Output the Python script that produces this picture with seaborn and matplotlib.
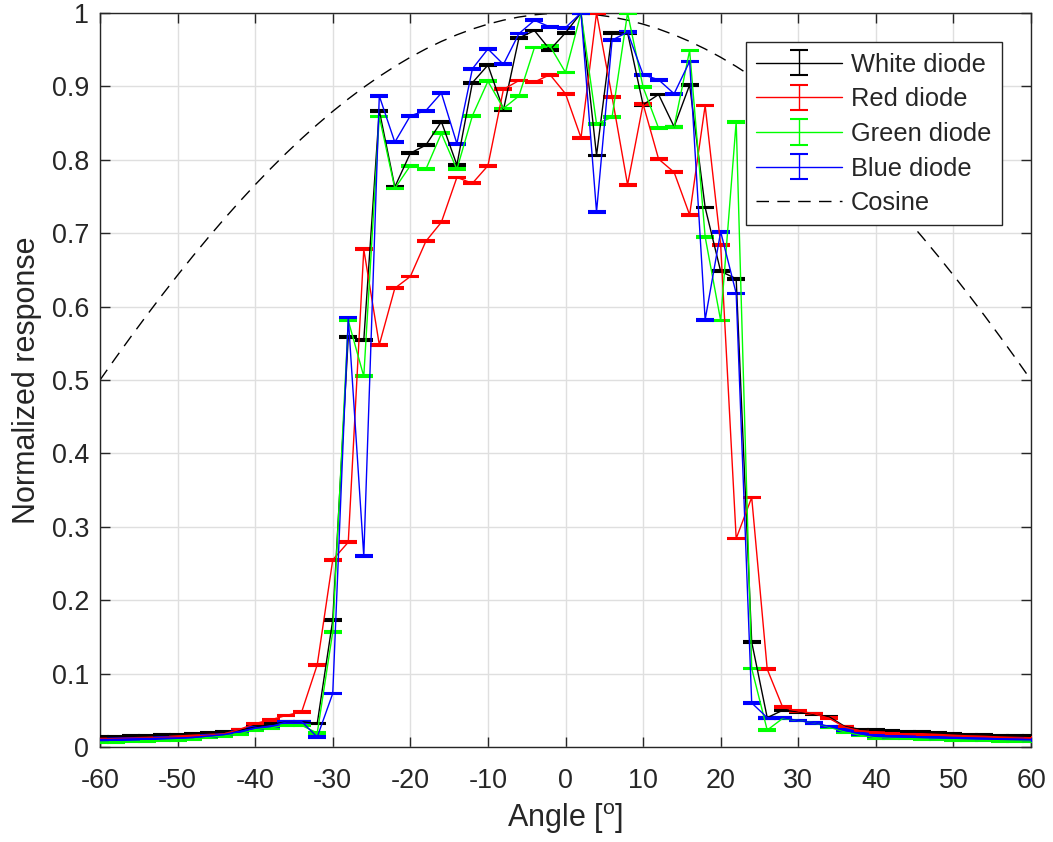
import numpy as np
import pandas as pd
import matplotlib
matplotlib.use("Agg")
import matplotlib.pyplot as plt
import seaborn as sns

# ---- data ----
angles = list(range(-60, 61, 2))

white = [0.0136, 0.014, 0.0145, 0.015, 0.016, 0.017, 0.018, 0.019, 0.020, 0.023,
         0.027, 0.031, 0.034, 0.0345, 0.032, 0.173, 0.559, 0.554, 0.867, 0.763,
         0.809, 0.820, 0.852, 0.793, 0.905, 0.929, 0.868, 0.966, 0.976, 0.950,
         0.973, 1.000, 0.806, 0.973, 0.973, 0.875, 0.889, 0.845, 0.902, 0.735,
         0.648, 0.638, 0.143, 0.040, 0.050, 0.048, 0.0445, 0.041, 0.028, 0.024,
         0.0227, 0.022, 0.021, 0.020, 0.019, 0.018, 0.017, 0.0165, 0.0155, 0.015, 0.0145]

red = [0.011, 0.0115, 0.012, 0.0125, 0.013, 0.014, 0.015, 0.016, 0.018, 0.024,
       0.032, 0.037, 0.043, 0.048, 0.112, 0.255, 0.279, 0.678, 0.548, 0.625,
       0.641, 0.689, 0.715, 0.776, 0.768, 0.792, 0.896, 0.908, 0.906, 0.916,
       0.890, 0.830, 1.000, 0.886, 0.766, 0.876, 0.801, 0.783, 0.725, 0.874,
       0.684, 0.284, 0.340, 0.106, 0.054, 0.049, 0.0455, 0.039, 0.027, 0.022,
       0.019, 0.018, 0.017, 0.0165, 0.016, 0.015, 0.0145, 0.014, 0.013, 0.0125, 0.012]

green = [0.0068, 0.007, 0.0075, 0.008, 0.009, 0.010, 0.011, 0.013, 0.015, 0.018,
         0.0236, 0.026, 0.030, 0.0295, 0.019, 0.157, 0.581, 0.505, 0.859, 0.761,
         0.792, 0.787, 0.836, 0.787, 0.860, 0.907, 0.870, 0.887, 0.953, 0.955,
         0.919, 1.000, 0.849, 0.858, 1.000, 0.899, 0.843, 0.845, 0.949, 0.695,
         0.581, 0.852, 0.107, 0.023, 0.039, 0.036, 0.033, 0.027, 0.0205, 0.016,
         0.0127, 0.012, 0.0115, 0.011, 0.0105, 0.010, 0.0095, 0.009, 0.0085, 0.008, 0.008]

blue = [0.010, 0.0105, 0.011, 0.0115, 0.012, 0.012, 0.013, 0.015, 0.017, 0.021,
        0.026, 0.028, 0.034, 0.0345, 0.0136, 0.073, 0.585, 0.260, 0.887, 0.824,
        0.860, 0.867, 0.891, 0.822, 0.924, 0.951, 0.930, 0.972, 0.990, 0.981,
        0.980, 1.000, 0.729, 0.963, 0.974, 0.916, 0.909, 0.890, 0.934, 0.582,
        0.702, 0.618, 0.060, 0.040, 0.040, 0.036, 0.033, 0.028, 0.0227, 0.018,
        0.0145, 0.014, 0.0135, 0.013, 0.0125, 0.012, 0.0115, 0.011, 0.011, 0.0105, 0.010]

meas_err = 0.0012

series_names = ["White diode", "Red diode", "Green diode", "Blue diode"]
series_vals = [white, red, green, blue]
series_colors = ["#000000", "#ff0000", "#00ff00", "#0000ff"]

xticks = list(range(-60, 61, 10))
yticks = [0, 0.1, 0.2, 0.3, 0.4, 0.5, 0.6, 0.7, 0.8, 0.9, 1.0]
ytick_labels = ["0", "0.1", "0.2", "0.3", "0.4", "0.5", "0.6", "0.7", "0.8", "0.9", "1"]

# ---- style ----
sns.set_style("whitegrid")
plt.rcParams["font.family"] = ["Liberation Sans", "DejaVu Sans"]
axcol = "#262626"

fig = plt.figure(figsize=(10.53, 8.42), dpi=100)
ax = fig.add_axes([100 / 1053, 1 - 747 / 842, 931 / 1053, 734 / 842])

for name, vals, col in zip(series_names, series_vals, series_colors):
    ax.errorbar(angles, vals, yerr=meas_err, color=col, lw=1.0,
                elinewidth=1.0, capsize=6.2, capthick=1.5, label=name, zorder=3)

cos_df = pd.DataFrame({"angle": angles,
                       "cosine": np.cos(np.deg2rad(np.array(angles, dtype=float)))})
sns.lineplot(data=cos_df, x="angle", y="cosine", ax=ax, color="black", lw=1.0,
             dashes=False, label="Cosine", zorder=2)
ax.lines[-1].set_dashes((9, 6))

ax.set_xlim(-60, 60)
ax.set_ylim(0, 1)
ax.set_xticks(xticks)
ax.set_xticklabels([str(t) for t in xticks])
ax.set_yticks(yticks)
ax.set_yticklabels(ytick_labels)

ax.grid(True, color="#dfdfdf", lw=1.0)
ax.set_axisbelow(True)
for s in ax.spines.values():
    s.set_color(axcol)
    s.set_linewidth(1.0)
    s.set_visible(True)
ax.tick_params(direction="in", length=7, width=1.0, colors=axcol,
               labelsize=19.4, top=True, right=True, bottom=True, left=True)
ax.tick_params(axis="x", pad=15)
ax.tick_params(axis="y", pad=8)

ax.set_xlabel(r"Angle [$\mathregular{^o}$]", fontsize=22, color=axcol, labelpad=5)
ax.set_ylabel("Normalized response", fontsize=22, color=axcol, labelpad=7)

handles, labels = ax.get_legend_handles_labels()
order = [labels.index(n) for n in series_names + ["Cosine"]]
leg = ax.legend([handles[i] for i in order], [labels[i] for i in order],
                loc="upper right", bbox_to_anchor=(0.9685, 0.960), borderaxespad=0,
                fontsize=18.3, frameon=True, fancybox=False, shadow=False,
                framealpha=1, edgecolor=axcol, handlelength=3.4, handletextpad=0.35,
                labelspacing=0.42, borderpad=0.4)
leg.get_frame().set_linewidth(1.0)

fig.savefig("out.png", dpi=100)
